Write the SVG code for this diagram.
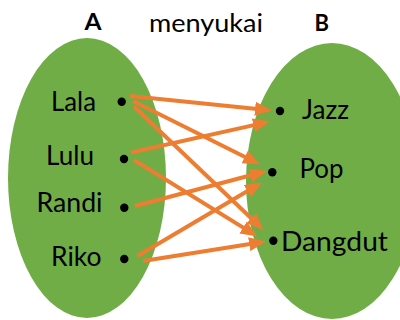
<svg xmlns="http://www.w3.org/2000/svg" width="400" height="320" viewBox="0 0 400 320">
<style>
.set{fill:#70AD47}
.lbl{font-family:Lato,"Open Sans",sans-serif;font-size:26px;fill:#000}
.title{font-family:Lato,"Open Sans",sans-serif;font-size:22.5px;font-weight:bold;fill:#000}
.rel{font-family:Lato,"Open Sans",sans-serif;font-size:25px;fill:#000}
.dot{fill:#000}
.arr{stroke:#ED7D31;stroke-width:4;fill:none;marker-end:url(#ah)}
</style>
<defs>
<marker id="ah" markerUnits="userSpaceOnUse" markerWidth="17" markerHeight="14" refX="12" refY="7" orient="auto">
<path d="M0,0 L17,7 L0,14 z" fill="#ED7D31"/>
</marker>
</defs>
<rect width="400" height="320" fill="#fff"/>
<g id="setA">
<ellipse class="set" cx="87" cy="178" rx="79" ry="140"/>
<text class="title" x="84.5" y="30" textLength="17" lengthAdjust="spacingAndGlyphs">A</text>
</g>
<g id="setB">
<ellipse class="set" cx="332" cy="181" rx="86" ry="138"/>
<text class="title" x="314.5" y="31" textLength="14.5" lengthAdjust="spacingAndGlyphs">B</text>
</g>
<g id="relation">
<text class="rel" x="149" y="31.5" textLength="114" lengthAdjust="spacingAndGlyphs">menyukai</text>
</g>
<g id="lala"><text class="lbl" x="51" y="110.7" textLength="45" lengthAdjust="spacingAndGlyphs">Lala</text><circle class="dot" cx="121.7" cy="101.7" r="4.2"/></g>
<g id="lulu"><text class="lbl" x="46" y="165" textLength="48" lengthAdjust="spacingAndGlyphs">Lulu</text><circle class="dot" cx="124" cy="159" r="4.2"/></g>
<g id="randi"><text class="lbl" x="36.5" y="212.3" textLength="66" lengthAdjust="spacingAndGlyphs">Randi</text><circle class="dot" cx="124.3" cy="207.7" r="4.2"/></g>
<g id="riko"><text class="lbl" x="51" y="265.7" textLength="50.5" lengthAdjust="spacingAndGlyphs">Riko</text><circle class="dot" cx="124.3" cy="259" r="4.2"/></g>
<g id="jazz"><circle class="dot" cx="280" cy="111" r="4.2"/><text class="lbl" x="302" y="119.3" textLength="47" lengthAdjust="spacingAndGlyphs">Jazz</text></g>
<g id="pop"><circle class="dot" cx="272.3" cy="172.3" r="4.2"/><text class="lbl" x="299.5" y="177.7" textLength="44" lengthAdjust="spacingAndGlyphs">Pop</text></g>
<g id="dangdut"><circle class="dot" cx="273.3" cy="240.7" r="4.2"/><text class="lbl" x="281" y="250.7" textLength="107" lengthAdjust="spacingAndGlyphs">Dangdut</text></g>
<g id="connectors">
<line class="arr" x1="130" y1="96" x2="267" y2="110"/>
<line class="arr" x1="133" y1="101" x2="255.5" y2="162.3"/>
<line class="arr" x1="134" y1="106.5" x2="259.9" y2="226.5"/>
<line class="arr" x1="131" y1="152.5" x2="265.1" y2="122.6"/>
<line class="arr" x1="134" y1="160" x2="253.3" y2="233.9"/>
<line class="arr" x1="135" y1="206" x2="262.2" y2="172.3"/>
<line class="arr" x1="137.5" y1="256" x2="257.7" y2="185"/>
<line class="arr" x1="143" y1="261" x2="261.1" y2="242.3"/>
</g>
</svg>
